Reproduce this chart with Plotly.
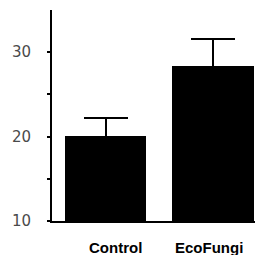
import plotly.graph_objects as go

categories = ["Control", "EcoFungi"]
values = [20.1, 28.4]
errors = [2.1, 3.2]
y_tickvals = [10, 15, 20, 25, 30]
y_ticktext = ["10", "", "20", "", "30"]
label_shift = [10, -4]

fig = go.Figure()
fig.add_trace(go.Bar(
    x=categories, y=values, width=0.755,
    marker=dict(color="black", line=dict(width=0)),
    error_y=dict(type="data", array=errors, visible=True, symmetric=True,
                 color="black", thickness=2, width=22),
))

for c, s in zip(categories, label_shift):
    fig.add_annotation(x=c, y=0, xref="x", yref="paper", text=c, showarrow=False,
                       yanchor="middle", yshift=-26, xshift=s,
                       font=dict(family="Liberation Sans, Arial", size=15, color="black", weight="bold"))

fig.update_layout(
    width=261, height=255,
    margin=dict(l=52, r=6, t=10, b=34),
    paper_bgcolor="white", plot_bgcolor="white",
    showlegend=False,
    bargap=0,
)
fig.update_xaxes(type="category", range=[-0.498, 1.39], showticklabels=False,
                 showline=True, linecolor="black", linewidth=2, ticks="", showgrid=False, zeroline=False)
fig.update_yaxes(range=[10, 35], tickvals=y_tickvals, ticktext=y_ticktext,
                 showline=True, linecolor="black", linewidth=2, ticks="outside", ticklen=3,
                 tickwidth=2, tickcolor="black", ticklabelstandoff=13,
                 tickfont=dict(family="DejaVu Sans", size=15, color="#4a4a4a"),
                 showgrid=False, zeroline=False)

fig.write_html("out.html", config={"displayModeBar": False},
               post_script="document.body.style.margin='0';document.body.style.overflow='hidden';")
